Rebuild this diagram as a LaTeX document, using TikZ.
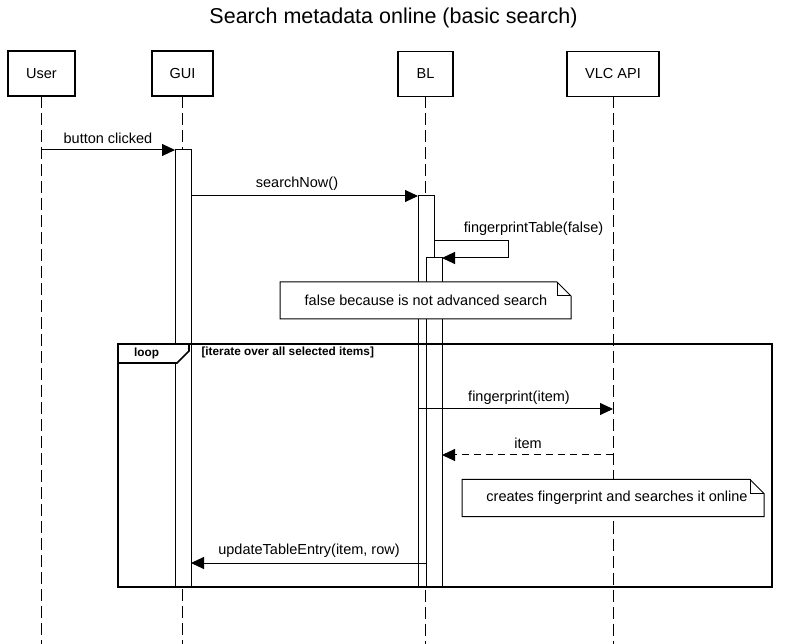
\documentclass[tikz,border=0pt]{standalone}
\usepackage{fontspec}
\setmainfont{Liberation Sans}
\usetikzlibrary{arrows.meta}
\begin{document}
\begin{tikzpicture}[x=1pt,y=-1pt,
  every node/.style={inner sep=0pt, outer sep=0pt, text=black},
  lbl/.style={font=\fontsize{14.5}{17}\selectfont},
  head/.style={draw, line width=1.8pt, fill=white, minimum width=#1,
    minimum height=45pt, font=\fontsize{14.5}{17}\selectfont},
  act/.style={draw, line width=1pt, fill=white, minimum width=16pt},
  life/.style={line width=1pt, dash pattern=on 12pt off 5pt},
  msg/.style={line width=1pt, -{Triangle[length=13pt,width=12pt]}},
  ret/.style={msg, dash pattern=on 7pt off 5pt},
  notetext/.style={minimum height=37pt, font=\fontsize{14.5}{17}\selectfont},
  notefold/.style={draw, line width=1pt, fill=white, line join=miter},
  framebold/.style={font=\bfseries\fontsize{11.8}{13}\selectfont}
]
\useasboundingbox (0,0) rectangle (788,644);

% title
\node[font=\fontsize{21.5}{25}\selectfont] (title) at (393.5,18) {Search metadata online (basic search)};

% participants
\node[head=67pt] (user) at (41.5,73.5) {User};
\node[head=61pt] (gui)  at (182.5,73.5) {GUI};
\node[head=55pt] (bl)   at (425.5,74) {BL};
\node[head=92pt] (vlc)  at (613,74) {VLC API};

% lifelines
\coordinate (bottom) at (0,644);
\draw[life] (user.south) -- (user.south |- bottom);
\draw[life] (gui.south)  -- (gui.south |- bottom);
\draw[life] (bl.south)   -- (bl.south |- bottom);
\draw[life] (vlc.south)  -- (vlc.south |- bottom);

% activations
\node[act, minimum height=437pt] (gact) at (183,368.5) {};
\node[act, minimum height=391pt] (bla)  at (426,391.5) {};
\node[act, minimum height=329pt] (blb)  at (434,422.5) {};

% message rows
\coordinate (r1) at (0,150);
\coordinate (r2) at (0,196);
\coordinate (r3) at (0,241);
\coordinate (r4) at (0,409);
\coordinate (r5) at (0,455);
\coordinate (r6) at (0,563);
\coordinate (selfA) at (508,241);
\coordinate (selfB) at (508,258);

% messages
\draw[msg] (user.south |- r1) -- (gact.north west);
\node[lbl] (m1) at (108,138) {button clicked};

\draw[msg] (gact.east |- r2) -- (bla.north west);
\node[lbl] (m2) at (297,184) {searchNow()};

\draw[msg] (bla.east |- r3) -- (selfA) -- (selfB) -- (blb.north east);
\node[lbl] (m3) at (533.5,229) {fingerprintTable(false)};

% note about the flag
\node[notetext, minimum width=291pt] (n1) at (425.5,300.5) {};
\draw[notefold] (n1.north west) -- ([xshift=-14pt]n1.north east)
  -- ([yshift=-14pt]n1.north east) -- (n1.south east) -- (n1.south west) -- cycle;
\draw[line width=1pt, line join=miter] ([xshift=-14pt]n1.north east)
  -- ([xshift=-14pt,yshift=-14pt]n1.north east) -- ([yshift=-14pt]n1.north east);
\node[lbl] (n1t) at (426,300) {false because is not advanced search};

% loop fragment
\draw[line width=2pt] (118,344) rectangle (772,587);
\draw[fill=white, line width=1.6pt, line join=miter]
  (118,344) -- (189,344) -- (189,351) -- (177,363) -- (118,363) -- cycle;
\node[framebold] (looplbl) at (146.5,353) {loop};
\node[framebold, anchor=west] (guard) at (201.5,352.5) {[iterate over all selected items]};

\draw[msg] (bla.west |- r4) -- (vlc.south |- r4);
\node[lbl] (m4) at (519,398) {fingerprint(item)};

\draw[ret] (vlc.south |- r5) -- (blb.east |- r5);
\node[lbl] (m5) at (528,443) {item};

% note about the online search
\node[notetext, minimum width=302pt] (n2) at (613,498) {};
\draw[notefold] (n2.north west) -- ([xshift=-14pt]n2.north east)
  -- ([yshift=-14pt]n2.north east) -- (n2.south east) -- (n2.south west) -- cycle;
\draw[line width=1pt, line join=miter] ([xshift=-14pt]n2.north east)
  -- ([xshift=-14pt,yshift=-14pt]n2.north east) -- ([yshift=-14pt]n2.north east);
\node[lbl] (n2t) at (617,498) {creates fingerprint and searches it online};

\draw[msg] (blb.west |- r6) -- (gact.east |- r6);
\node[lbl] (m6) at (309,551) {updateTableEntry(item, row)};

\end{tikzpicture}
\end{document}
